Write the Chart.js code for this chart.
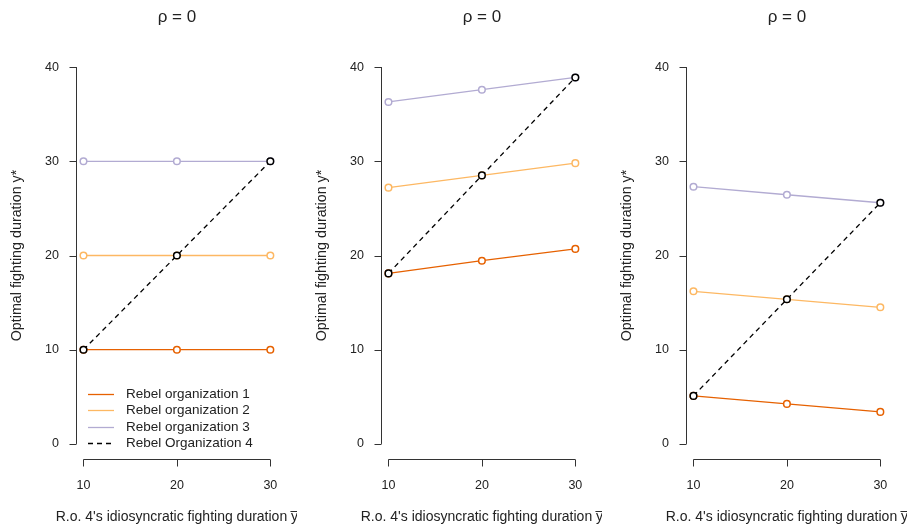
<!DOCTYPE html>
<html>
<head>
<meta charset="utf-8">
<script src="https://cdn.jsdelivr.net/npm/chart.js@4"></script>
<style>
  body { margin: 0; background: #fff; }
  #wrap { position: relative; width: 907px; height: 527px; }
  canvas { position: absolute; top: 0; }
</style>
</head>
<body>
<div id="wrap">
  <canvas id="c1" width="297" height="527" style="left:0px"></canvas>
  <canvas id="c2" width="297" height="527" style="left:305px"></canvas>
  <canvas id="c3" width="297" height="527" style="left:610px"></canvas>
</div>
<script>
// x positions (R.o. 4's idiosyncratic fighting duration)
var xValues = [10, 20, 30];
var yTicks = [0, 10, 20, 30, 40];
var panelTitle = "ρ = 0";
var xTitle = "R.o. 4's idiosyncratic fighting duration y\u0305";
var yTitle = "Optimal fighting duration y*";
var seriesNames = ["Rebel organization 1", "Rebel organization 2", "Rebel organization 3", "Rebel Organization 4"];
var seriesColors = ["#E66101", "#FDB863", "#B2ABD2", "#000000"];

// panel 1
var p1Org1 = [10, 10, 10];
var p1Org2 = [20, 20, 20];
var p1Org3 = [30, 30, 30];
var p1Org4 = [10, 20, 30];
// panel 2
var p2Org1 = [18.1, 19.45, 20.7];
var p2Org2 = [27.2, 28.5, 29.8];
var p2Org3 = [36.3, 37.6, 38.9];
var p2Org4 = [18.1, 28.5, 38.9];
// panel 3
var p3Org1 = [5.1, 4.25, 3.4];
var p3Org2 = [16.2, 15.35, 14.5];
var p3Org3 = [27.3, 26.45, 25.6];
var p3Org4 = [5.1, 15.35, 25.6];

var fontFam = "'Liberation Sans', Arial, sans-serif";
var textCol = "#222";

// R-style detached axes + x axis title (chart.js squeezes it to the scale width)
var rAxes = {
  id: "rAxes",
  beforeDatasetsDraw: function (chart) {
    var ctx = chart.ctx, xs = chart.scales.x, ys = chart.scales.y, a = chart.chartArea;
    ctx.save();
    ctx.strokeStyle = "#333";
    ctx.lineWidth = 1;
    ctx.beginPath();
    var left = Math.round(a.left) + 0.5;
    ctx.moveTo(left, ys.getPixelForValue(yTicks[0]));
    ctx.lineTo(left, ys.getPixelForValue(yTicks[yTicks.length - 1]));
    yTicks.forEach(function (v) {
      var p = Math.round(ys.getPixelForValue(v)) + 0.5;
      ctx.moveTo(left, p);
      ctx.lineTo(left - 7, p);
    });
    var bottom = Math.round(a.bottom) + 0.5;
    ctx.moveTo(xs.getPixelForValue(xValues[0]), bottom);
    ctx.lineTo(xs.getPixelForValue(xValues[xValues.length - 1]), bottom);
    xValues.forEach(function (v) {
      var p = Math.round(xs.getPixelForValue(v)) + 0.5;
      ctx.moveTo(p, bottom);
      ctx.lineTo(p, bottom + 7);
    });
    ctx.stroke();

    ctx.font = "14px " + fontFam;
    ctx.fillStyle = textCol;
    ctx.textAlign = "center";
    ctx.textBaseline = "middle";
    ctx.fillText(xTitle, (a.left + a.right) / 2, a.bottom + 58);
    ctx.restore();
  }
};

// legend drawn inside the first panel, bottom left
var rLegend = {
  id: "rLegend",
  afterDraw: function (chart) {
    var ctx = chart.ctx, a = chart.chartArea;
    ctx.save();
    ctx.font = "13.5px " + fontFam;
    ctx.textBaseline = "middle";
    ctx.fillStyle = textCol;
    chart.data.datasets.forEach(function (ds, i) {
      var y = Math.round(a.bottom - 65 + i * 16.3) + 0.5;
      ctx.strokeStyle = ds.borderColor;
      ctx.lineWidth = 1.3;
      ctx.setLineDash(ds.borderDash || []);
      ctx.beginPath();
      ctx.moveTo(a.left + 12, y);
      ctx.lineTo(a.left + 38, y);
      ctx.stroke();
      ctx.setLineDash([]);
      ctx.fillText(ds.label, a.left + 50, y);
    });
    ctx.restore();
  }
};

function makeSet(i, values) {
  return {
    label: seriesNames[i],
    data: xValues.map(function (x, k) { return { x: x, y: values[k] }; }),
    borderColor: seriesColors[i],
    backgroundColor: "#fff",
    pointBackgroundColor: "#fff",
    pointBorderColor: seriesColors[i],
    borderWidth: 1.3,
    pointRadius: 3.3,
    pointBorderWidth: 1.5,
    borderDash: i === 3 ? [5, 4] : [],
    order: i === 3 ? 0 : i + 1,
    tension: 0
  };
}

function makePanel(id, sets, withLegend) {
  var ctx = document.getElementById(id).getContext("2d");
  var plugins = [rAxes];
  if (withLegend) plugins.push(rLegend);
  return new Chart(ctx, {
    type: "line",
    data: {
      datasets: sets.map(function (v, i) { return makeSet(i, v); })
    },
    plugins: plugins,
    options: {
      responsive: false,
      animation: false,
      layout: { padding: { top: 0, right: 18, bottom: 0, left: 0 } },
      plugins: {
        legend: { display: false },
        tooltip: { enabled: false },
        title: {
          display: true,
          text: panelTitle,
          fullSize: false,
          color: textCol,
          font: { family: fontFam, size: 17, weight: "normal" },
          padding: { top: 7.5, bottom: 24.1 }
        }
      },
      scales: {
        x: {
          type: "linear",
          min: 9.2,
          max: 30.8,
          afterBuildTicks: function (s) { s.ticks = xValues.map(function (v) { return { value: v }; }); },
          afterFit: function (s) { s.height = 68; },
          grid: { display: false, drawTicks: false },
          border: { display: false },
          ticks: { padding: 19, color: textCol, font: { family: fontFam, size: 12.5 } },
          title: { display: false }
        },
        y: {
          min: -1.6,
          max: 41.6,
          afterBuildTicks: function (s) { s.ticks = yTicks.map(function (v) { return { value: v }; }); },
          afterFit: function (s) { s.width = 76; },
          grid: { display: false, drawTicks: false },
          border: { display: false },
          ticks: { padding: 17, color: textCol, font: { family: fontFam, size: 12.5 } },
          title: {
            display: true,
            text: yTitle,
            color: textCol,
            font: { family: fontFam, size: 14.3 },
            padding: { top: 8.6, bottom: 0 }
          }
        }
      }
    }
  });
}

window.onload = function () {
  makePanel("c1", [p1Org1, p1Org2, p1Org3, p1Org4], true);
  makePanel("c2", [p2Org1, p2Org2, p2Org3, p2Org4], false);
  makePanel("c3", [p3Org1, p3Org2, p3Org3, p3Org4], false);
};
</script>
</body>
</html>
